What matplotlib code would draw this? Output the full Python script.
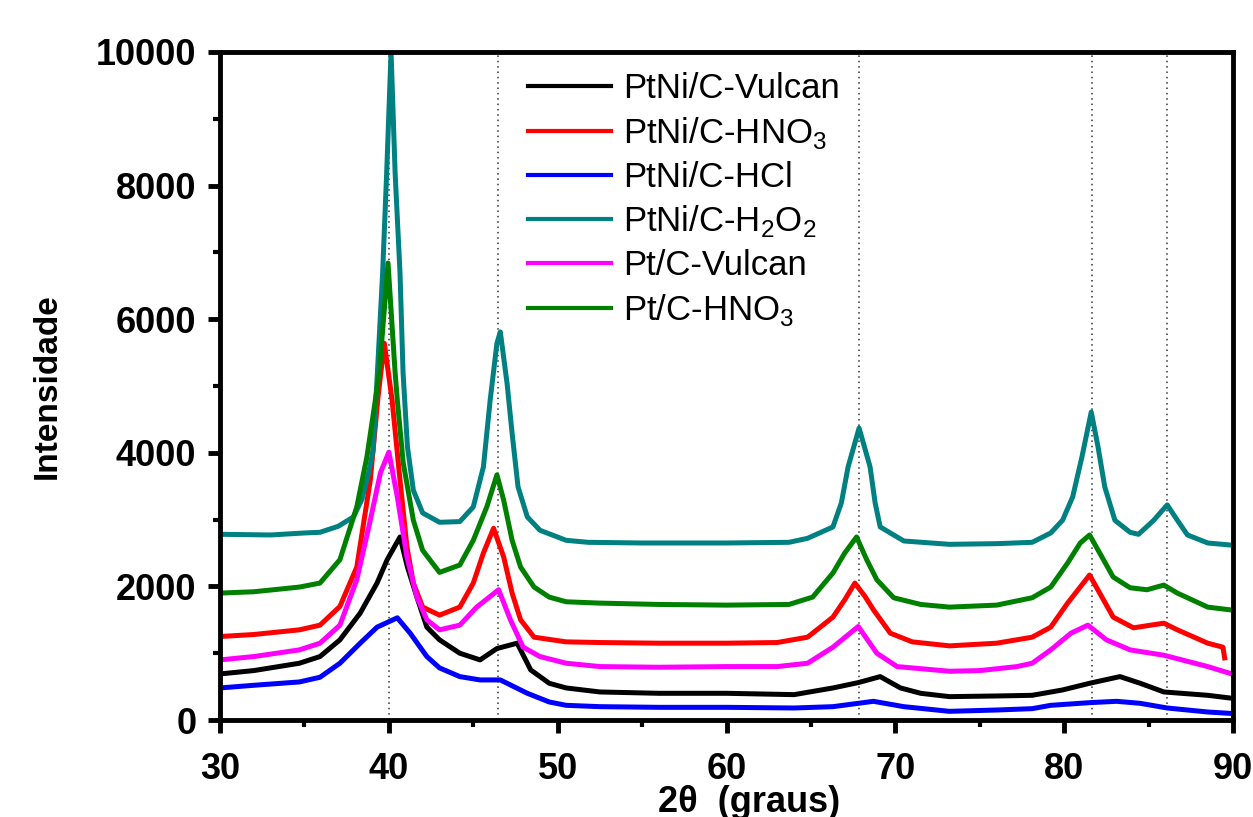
import matplotlib
matplotlib.use("Agg")
import matplotlib.pyplot as plt

plt.rcParams["font.family"] = ["Liberation Sans", "DejaVu Sans"]
plt.rcParams["mathtext.fontset"] = "custom"
plt.rcParams["mathtext.rm"] = "Liberation Sans"

# --- data (2theta in degrees, intensity) ---
labels = ["PtNi/C-Vulcan", r"PtNi/C-HNO$_\mathregular{3}$", "PtNi/C-HCl",
          r"PtNi/C-H$_\mathregular{2}$O$_\mathregular{2}$", "Pt/C-Vulcan",
          r"Pt/C-HNO$_\mathregular{3}$"]
colors = ["#000000", "#ff0000", "#0000ff", "#008080", "#ff00ff", "#008000"]

x_vulcan = [30, 32, 34.7, 35.92, 37.1, 38.3, 39.3, 39.9, 40.66, 41.1, 41.66, 42.25,
            43.0, 44.2, 45.4, 46.4, 47.6, 48.4, 49.5, 50.5, 52.5, 56, 60, 64, 66.3,
            67.8, 69.1, 70.3, 71.5, 73.2, 76, 78.1, 79.9, 81.5, 83.3, 84.5, 85.9,
            88.5, 89.8]
y_vulcan = [690, 740, 850, 950, 1200, 1600, 2050, 2400, 2740, 2290, 1840, 1390,
            1200, 1000, 900, 1070, 1150, 750, 550, 480, 420, 400, 400, 380, 480,
            560, 650, 480, 400, 350, 360, 370, 450, 550, 650, 550, 420,
            370, 330]

x_hno3 = [30, 32, 34.7, 35.92, 37.1, 38.1, 38.9, 39.36, 39.73, 40.19, 40.66, 41.07,
          41.45, 42.0, 43.0, 44.2, 45.0, 45.6, 46.2, 46.8, 47.3, 47.8, 48.6, 50.5,
          52.5, 56, 60, 63, 64.8, 66.3, 67.0, 67.6, 68.2, 68.7, 69.7, 71, 73.2, 76,
          78.1, 79.2, 80.2, 81.5, 82.1, 82.9, 84.1, 85.9, 86.7, 88.5, 89.4, 89.5]
y_hno3 = [1250, 1280, 1350, 1420, 1700, 2290, 3590, 4840, 5640, 4790, 3590, 2590,
          2050, 1690, 1570, 1690, 2050, 2500, 2870, 2440, 1900, 1500, 1240, 1170,
          1160, 1150, 1150, 1160, 1240, 1540, 1800, 2050, 1850, 1650, 1300, 1170, 1110, 1150,
          1240, 1390, 1750, 2170, 1900, 1540, 1380, 1450, 1350, 1150, 1090, 930]

x_hcl = [30, 32, 34.7, 35.92, 37.1, 38.3, 39.3, 40.5, 41.26, 42.25, 43.0, 44.2, 45.4,
         46.6, 47.0, 48.2, 49.5, 50.5, 52.5, 56, 60, 64, 66.3, 68.7, 70.5, 73.2, 76,
         78.1, 79.2, 81.5, 83.1, 84.5, 86.1, 88.5, 89.8]
y_hcl = [480, 520, 570, 640, 850, 1150, 1390, 1530, 1300, 950, 780, 650, 600,
         600, 550, 400, 270, 220, 200, 190, 190, 180, 200, 280, 200, 130, 150,
         170, 220, 260, 280, 250, 180, 120, 100]

x_h2o2 = [30, 33, 35, 35.92, 37.0, 37.9, 38.4, 38.8, 39.07, 39.32, 39.63, 39.87, 40.13,
          40.37, 40.66, 40.84, 41.1, 41.45, 42.0, 43.0, 44.2, 45.0, 45.6, 46.0, 46.4,
          46.6, 47.0, 47.3, 47.65, 48.2, 48.95, 50.5, 51.8, 55, 60, 63.7, 64.8, 66.3,
          66.8, 67.2, 67.85, 68.5, 68.8, 69.1, 70.5, 73.2, 76, 78.1, 79.2, 79.9, 80.5,
          81.05, 81.6, 82.0, 82.4, 83.0, 83.9, 84.4, 85.3, 86.1, 86.7, 87.3, 88.5, 89.8]
y_h2o2 = [2780, 2770, 2800, 2810, 2900, 3040, 3300, 3700, 4040, 5200, 6690, 8190, 10000,
          8190, 6690, 5200, 4090, 3440, 3100, 2960, 2970, 3190, 3790, 4790, 5640,
          5810, 5040, 4290, 3490, 3040, 2840, 2690, 2660, 2650, 2650, 2660, 2720, 2890,
          3250, 3790, 4370, 3790, 3250, 2890, 2680, 2630, 2640, 2660, 2800, 2990, 3340,
          3940, 4610, 4090, 3490, 2990, 2810, 2780, 2990, 3220, 2990, 2770, 2650, 2620]

x_pt_vulcan = [30, 32, 34.7, 35.92, 37.1, 38.1, 38.9, 39.5, 40.0, 40.5, 41.07, 41.66,
               42.25, 43.0, 44.2, 45.2, 46.5, 47.2, 47.95, 48.95, 50.5, 52.5, 56, 60,
               63, 64.8, 66.3, 67.8, 68.9, 70.1, 73.2, 75, 77.2, 78.1, 79.2, 80.4, 81.4,
               82.5, 83.9, 85.9, 88.5, 89.8]
y_pt_vulcan = [900, 950, 1050, 1150, 1420, 2100, 2990, 3700, 4010, 3340, 2440, 1840,
               1500, 1350, 1420, 1690, 1950, 1500, 1090, 950, 850, 800, 790, 800,
               800, 850, 1090, 1400, 1000, 800, 730, 740, 800, 850, 1050, 1300, 1420,
               1200, 1050, 970, 800, 700]

x_pt_hno3 = [30, 32, 34.7, 35.92, 37.1, 38.1, 38.7, 39.2, 39.43, 39.95, 40.37, 40.5,
             40.85, 41.45, 42.0, 43.0, 44.2, 45.0, 45.8, 46.4, 46.8, 47.3, 47.8, 48.6,
             49.5, 50.5, 52.5, 56, 60, 63.7, 65.1, 66.3, 67.0, 67.7, 68.3, 68.9, 69.9,
             71.5, 73.2, 76, 78.1, 79.2, 80.2, 80.95, 81.5, 82.1, 82.9, 83.9, 84.9,
             85.9, 86.7, 88.5, 89.8]
y_pt_hno3 = [1900, 1920, 1990, 2050, 2400, 3190, 3940, 4790, 5200, 6840, 5200, 4790,
             3850, 2990, 2540, 2210, 2320, 2690, 3190, 3670, 3290, 2690, 2290, 1990,
             1840, 1770, 1750, 1730, 1720, 1730, 1840, 2200, 2500, 2740, 2400, 2100, 1830,
             1730, 1690, 1720, 1830, 1990, 2350, 2650, 2770, 2500, 2140, 1980, 1950,
             2020, 1900, 1690, 1650]

peak_positions = [40.02, 46.47, 67.85, 81.62, 86.08]

series = [(x_vulcan, y_vulcan), (x_hno3, y_hno3), (x_hcl, y_hcl),
          (x_h2o2, y_h2o2), (x_pt_vulcan, y_pt_vulcan), (x_pt_hno3, y_pt_hno3)]

fig = plt.figure(figsize=(12.53, 8.17), dpi=100)
ax = fig.add_axes([0.1756, 0.1187, 0.8085, 0.8177])

for xp in peak_positions:
    ax.axvline(xp, color="#333333", lw=1.1, ls=(0, (1, 2.5)), zorder=1)

for (xs, ys), lab, c in zip(series, labels, colors):
    ax.plot(xs, ys, color=c, lw=3.6, label=lab, zorder=2,
            solid_joinstyle="round")

ax.set_xlim(30, 90)
ax.set_ylim(0, 10000)
ax.set_xticks(range(30, 91, 10))
ax.set_xticks(range(35, 90, 10), minor=True)
ax.set_yticks(range(0, 10001, 2000))
ax.set_yticks(range(1000, 10000, 2000), minor=True)

for s in ax.spines.values():
    s.set_linewidth(3.5)
ax.tick_params(which="major", direction="out", length=9, width=3.5, labelsize=26)
ax.tick_params(which="minor", direction="out", length=5, width=3)
ax.tick_params(axis="x", which="major", pad=14)
ax.tick_params(axis="y", which="major", pad=8)
for lbl in ax.get_xticklabels() + ax.get_yticklabels():
    lbl.set_fontweight("bold")

ax.set_ylabel("Intensidade", fontsize=24, fontweight="bold", labelpad=24)
ax.set_xlabel("2θ  (graus)", fontsize=26, fontweight="bold")
ax.xaxis.set_label_coords(0.522, -0.097)

leg = ax.legend(loc="upper left", bbox_to_anchor=(0.297, 0.98), frameon=False,
                fontsize=25, handlelength=2.4, handletextpad=0.35,
                labelspacing=0.28, borderpad=0.2, borderaxespad=0)
for h in leg.get_lines():
    h.set_linewidth(3)

fig.savefig("out.png", dpi=100)
